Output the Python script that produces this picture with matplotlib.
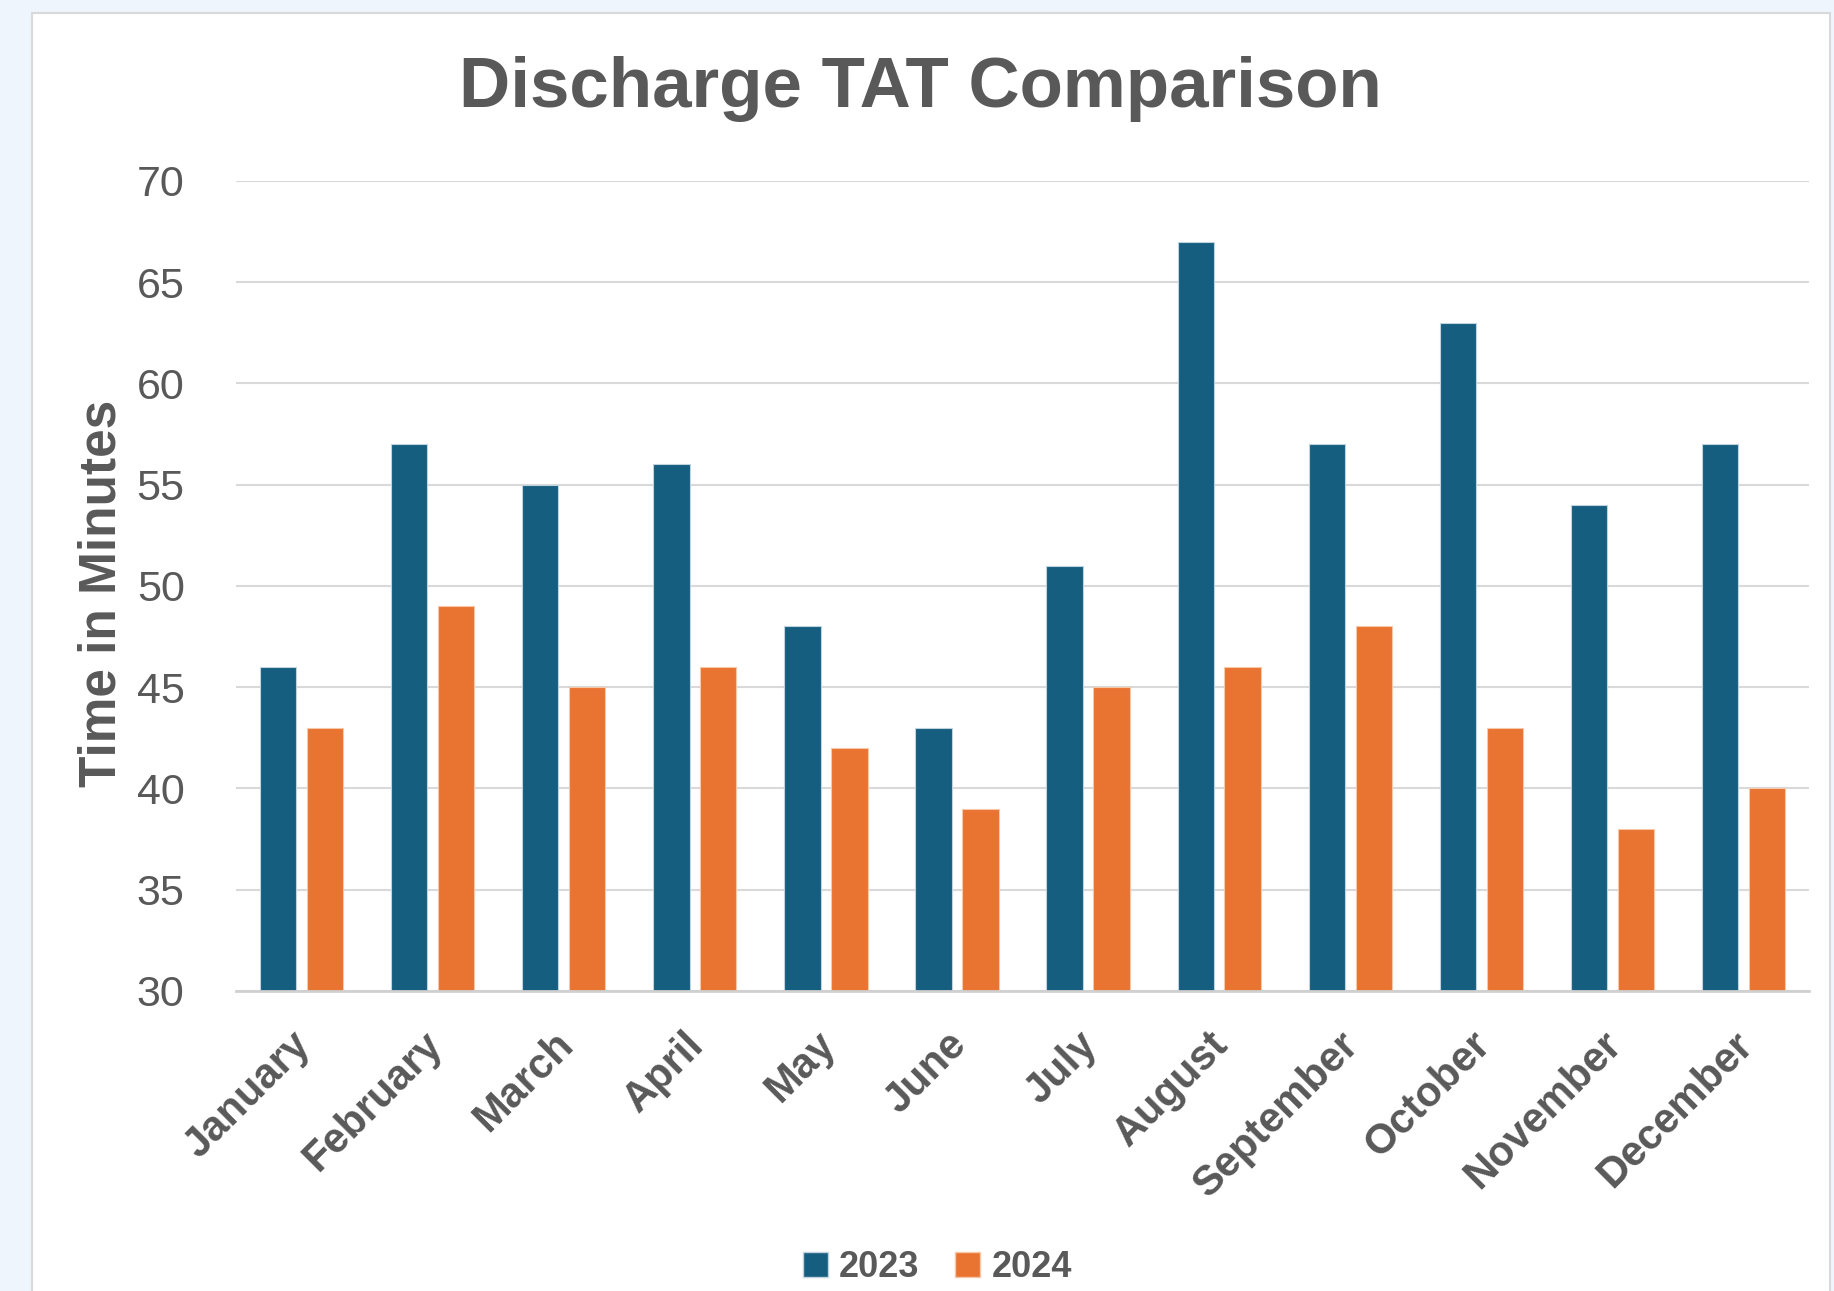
import matplotlib
matplotlib.use("Agg")
import matplotlib.pyplot as plt
import matplotlib.transforms as mtrans
import numpy as np
from matplotlib.patches import Rectangle, Patch

months = ["January", "February", "March", "April", "May", "June", "July",
          "August", "September", "October", "November", "December"]
series_names = ["2023", "2024"]
values_2023 = [46, 57, 55, 56, 48, 43, 51, 67, 57, 63, 54, 57]
values_2024 = [43, 49, 45, 46, 42, 39, 45, 46, 48, 43, 38, 40]
yticks = [30, 35, 40, 45, 50, 55, 60, 65, 70]

BLUE = "#165E80"
ORANGE = "#E97432"
TEXT = "#595959"
FONT = ["Liberation Sans", "DejaVu Sans"]

fig = plt.figure(figsize=(18.34, 12.91), dpi=100)
fig.patch.set_facecolor("#EEF5FC")
panel = Rectangle((0.0174, -0.01), 0.9806, 1.0, transform=fig.transFigure,
                  facecolor="white", edgecolor="#D9D9D9", linewidth=1.5, zorder=-10)
fig.patches.append(panel)

ax = fig.add_axes([0.1287, 0.2324, 0.8577, 0.6274])
ax.set_facecolor("none")
x = np.arange(len(months))
w = 0.277
off = 0.179
ax.bar(x - off, values_2023, width=w, bottom=0, color=BLUE, edgecolor="#BFD3DE", linewidth=0.8, zorder=3, label=series_names[0])
ax.bar(x + off, values_2024, width=w, bottom=0, color=ORANGE, edgecolor="#F6C8A8", linewidth=0.8, zorder=3, label=series_names[1])

ax.set_ylim(30, 70)
ax.set_xlim(-0.5, len(months) - 0.5)
ax.set_yticks(yticks)
ax.set_yticklabels([str(t) for t in yticks], family=FONT, fontsize=31, color=TEXT)
ax.yaxis.grid(True, color="#D9D9D9", linewidth=1.5, zorder=0)
ax.set_axisbelow(True)
for s in ["top", "right", "left"]:
    ax.spines[s].set_visible(False)
ax.spines["bottom"].set_color("#D0D0D0")
ax.spines["bottom"].set_linewidth(2)
ax.spines["bottom"].set_zorder(4)
ax.tick_params(axis="y", length=0, pad=37)
ax.tick_params(axis="x", length=0, pad=24)
ax.set_xticks(x)
ax.set_xticklabels(months, rotation=45, ha="right", rotation_mode="anchor",
                   family=FONT, fontsize=30, fontweight="bold", color=TEXT)
shift = mtrans.ScaledTranslation(-8 / 72, 0, fig.dpi_scale_trans)
for lab in ax.get_xticklabels():
    lab.set_transform(lab.get_transform() + shift)

fig.text(0.0555, 0.54, "Time in Minutes", rotation=90, ha="center", va="center",
         family=FONT, fontsize=37, fontweight="bold", color=TEXT)
fig.text(0.502, 0.931, "Discharge TAT Comparison", ha="center", va="center",
         family=FONT, fontsize=51, fontweight="bold", color=TEXT)

handles = [Patch(facecolor=BLUE, edgecolor="#BFD3DE"), Patch(facecolor=ORANGE, edgecolor="#F6C8A8")]
leg = fig.legend(handles, series_names, loc="center", bbox_to_anchor=(0.511, 0.018), ncol=2,
                 frameon=False, handlelength=0.7, handleheight=0.7, handletextpad=0.3,
                 columnspacing=1.0, prop={"family": FONT, "size": 26, "weight": "bold"})
for t in leg.get_texts():
    t.set_color(TEXT)

fig.savefig("out.png", dpi=100, facecolor=fig.get_facecolor())
